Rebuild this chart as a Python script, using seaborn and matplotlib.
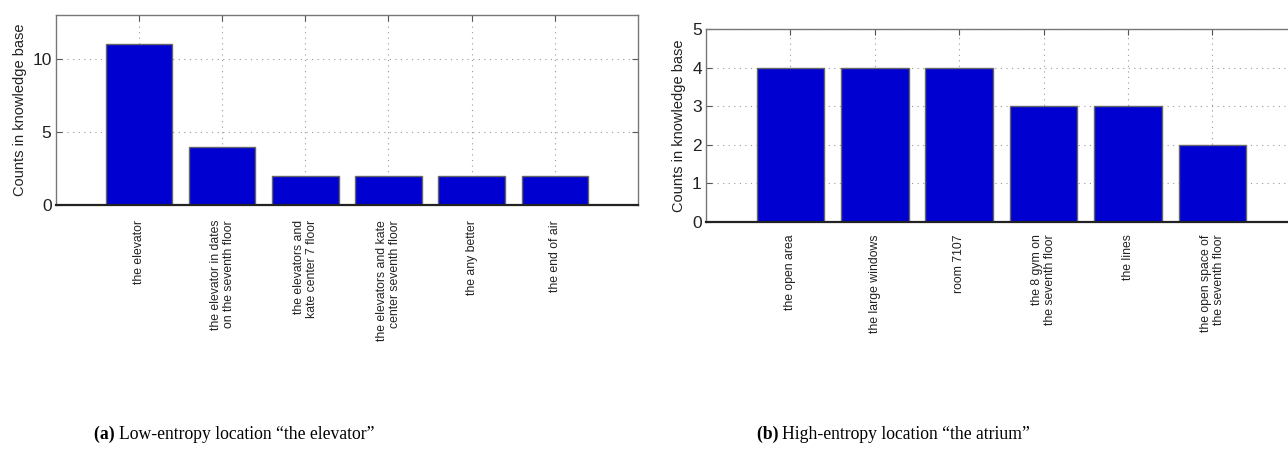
import matplotlib
matplotlib.use("Agg")
import matplotlib.pyplot as plt
import seaborn as sns
import pandas as pd

# ---- data ----
labels_a = ["the elevator",
            "the elevator in dates\non the seventh floor",
            "the elevators and\nkate center 7 floor",
            "the elevators and kate\ncenter seventh floor",
            "the any better",
            "the end of air"]
counts_a = [11, 4, 2, 2, 2, 2]

labels_b = ["the open area",
            "the large windows",
            "room 7107",
            "the 8 gym on\nthe seventh floor",
            "the lines",
            "the open space of\nthe seventh floor"]
counts_b = [4, 4, 4, 3, 3, 2]

yticks_a = [0, 5, 10]
yticks_b = [0, 1, 2, 3, 4, 5]

caption_a = "Low-entropy location \u201cthe elevator\u201d"
caption_b = "High-entropy location \u201cthe atrium\u201d"

sns.set_theme(style="white")
plt.rcParams['font.family'] = ['Liberation Sans', 'DejaVu Sans']

fig = plt.figure(figsize=(12.88, 4.59), dpi=100)
ax_a = fig.add_axes([0.04325, 0.5527, 0.4521, 0.4153])
ax_b = fig.add_axes([0.5481, 0.5163, 0.4587, 0.4205])

BAR = "#0000D0"


def draw(ax, labels, counts, ylim, yticks, pad):
    df = pd.DataFrame({"label": labels, "count": counts})
    sns.barplot(data=df, x="label", y="count", ax=ax, color=BAR,
                saturation=1, width=0.8, edgecolor="#666666", linewidth=1.0,
                errorbar=None, zorder=3)
    ax.set_xlim(-1, len(labels))
    ax.set_ylim(*ylim)
    ax.set_yticks(yticks)
    ax.set_yticklabels([str(t) for t in yticks], fontsize=12.5, color="#222222")
    ax.set_xticks(range(len(labels)))
    ax.set_xticklabels(labels, rotation=90, fontsize=8.8, ha="center",
                       va="top", multialignment="right", color="#222222",
                       linespacing=1.1)
    ax.set_xlabel("")
    ax.set_ylabel("Counts in knowledge base", fontsize=10.5, color="#222222",
                  labelpad=4)
    ax.grid(True, linestyle=(0, (1, 4)), color="#999999", linewidth=0.8,
            zorder=0)
    ax.set_axisbelow(True)
    ax.tick_params(axis="both", direction="in", length=4, width=0.8,
                   color="#555555", top=True, right=True, bottom=True,
                   left=True)
    ax.tick_params(axis="x", pad=pad)
    ax.tick_params(axis="y", pad=3)
    for s in ["top", "left", "right"]:
        ax.spines[s].set_color("#777777")
        ax.spines[s].set_linewidth(1.0)
    ax.spines["bottom"].set_color("#222222")
    ax.spines["bottom"].set_linewidth(1.6)
    ax.spines["bottom"].set_zorder(5)


draw(ax_a, labels_a, counts_a, (0, 13), yticks_a, 10.5)
draw(ax_b, labels_b, counts_b, (0, 5), yticks_b, 9)

serif = ['Liberation Serif', 'DejaVu Serif']
for cx, tag, cap in [(0.0925, "(a)", caption_a), (0.6075, "(b)", caption_b)]:
    fig.text(cx, 0.054, tag + " ", fontsize=12.7, fontweight="bold",
             family=serif, ha="right", va="center", color="black")
    fig.text(cx, 0.054, cap, fontsize=12.7, family=serif, ha="left",
             va="center", color="black")

fig.savefig("out.png", dpi=100)
